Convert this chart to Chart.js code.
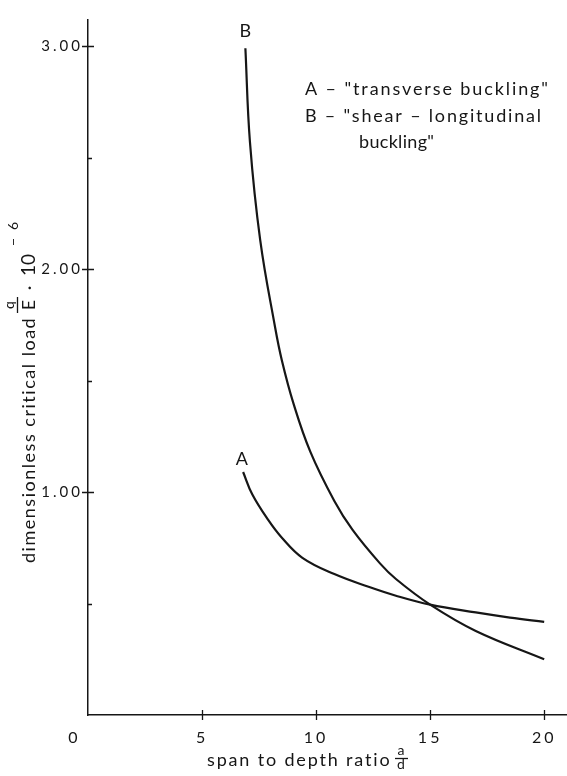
<!DOCTYPE html>
<html>
<head>
<meta charset="utf-8">
<script src="https://cdn.jsdelivr.net/npm/chart.js@4/dist/chart.umd.min.js"></script>
<style>
html, body { margin: 0; padding: 0; background: #fff; }
#wrap { width: 567px; height: 776px; }
</style>
</head>
<body>
<div id="wrap"><canvas id="chart" width="567" height="776"></canvas></div>
<script>
// curve A - "transverse buckling"
var xA = [6.8, 7.2, 7.9, 8.5, 9.4, 10.8, 12.3, 13.5, 15, 17, 18.5, 20];
var yA = [1.09, 0.99, 0.875, 0.795, 0.705, 0.632, 0.575, 0.535, 0.495, 0.46, 0.437, 0.418];
// curve B - "shear-longitudinal buckling"
var xB = [6.9, 7.1, 7.55, 8.2, 8.5, 9.0, 9.75, 10.8, 11.6, 12.8, 13.5, 15, 17, 20];
var yB = [2.99, 2.57, 2.13, 1.74, 1.59, 1.40, 1.18, 0.96, 0.83, 0.68, 0.61, 0.495, 0.377, 0.25];
var xTicks = [5, 10, 15, 20];
var yTicks = [0.5, 1, 1.5, 2, 2.5, 3];

var ink = '#161616';
var fontName = 'Lato';

function pts(xs, ys) {
  var out = [];
  for (var i = 0; i < xs.length; i++) out.push({x: xs[i], y: ys[i]});
  return out;
}

// draw text, optionally stretched with letter spacing to a target width
function txt(ctx, s, x, y, size, width, align) {
  ctx.font = size + 'px ' + fontName;
  ctx.letterSpacing = '0px';
  var sp = 0;
  if (width) {
    var w = ctx.measureText(s).width;
    sp = Math.max(0, (width - w) / (s.length - 1));
  }
  ctx.letterSpacing = sp + 'px';
  ctx.textAlign = align || 'left';
  ctx.fillText(s, x, y);
}

var decor = {
  id: 'decor',
  beforeDraw: function(chart) {
    chart.ctx.letterSpacing = '3px';
  },
  afterDraw: function(chart) {
    var ctx = chart.ctx;
    var xs = chart.scales.x, ys = chart.scales.y;
    var x0 = xs.getPixelForValue(0), y0 = ys.getPixelForValue(0);
    ctx.save();
    ctx.strokeStyle = ink;
    ctx.fillStyle = ink;
    ctx.lineWidth = 1.3;

    // tick marks crossing the axes
    ctx.beginPath();
    yTicks.forEach(function(v) {
      var p = Math.round(ys.getPixelForValue(v)) + 0.5;
      if (Number.isInteger(v)) { ctx.moveTo(x0 - 6, p); ctx.lineTo(x0 + 6, p); }
      else { ctx.moveTo(x0, p); ctx.lineTo(x0 + 4, p); }
    });
    xTicks.forEach(function(v) {
      var p = Math.round(xs.getPixelForValue(v)) + 0.5;
      ctx.moveTo(p, y0 - 5); ctx.lineTo(p, y0 + 5);
    });
    ctx.stroke();

    ctx.textBaseline = 'alphabetic';
    // origin label
    txt(ctx, '0', x0 - 15, y0 + 28, 16, 0, 'center');

    // curve labels
    txt(ctx, 'A', xs.getPixelForValue(6.75), ys.getPixelForValue(1.12), 18, 0, 'center');
    txt(ctx, 'B', xs.getPixelForValue(6.9), ys.getPixelForValue(3.04), 18, 0, 'center');

    // key
    txt(ctx, 'A \u2013 "transverse buckling"', 305, 95, 18, 243);
    txt(ctx, 'B \u2013 "shear \u2013 longitudinal', 305, 122, 18, 236);
    txt(ctx, 'buckling"', 359, 148, 18, 75);

    // x axis title with a/d fraction
    txt(ctx, 'span to depth ratio', 207, 766, 18, 183);
    txt(ctx, 'a', 401, 755, 14, 0, 'center');
    txt(ctx, 'd', 401, 769, 14, 0, 'center');
    ctx.beginPath();
    ctx.moveTo(395, 758.5); ctx.lineTo(408, 758.5);
    ctx.stroke();

    // y axis title, rotated, with q/E fraction and 10^-6
    ctx.translate(35, 563);
    ctx.rotate(-Math.PI / 2);
    txt(ctx, 'dimensionless critical load', 0, 0, 18, 245);
    txt(ctx, 'q', 258, -21, 14, 0, 'center');
    ctx.beginPath();
    ctx.moveTo(250, -17.5); ctx.lineTo(266, -17.5);
    ctx.stroke();
    txt(ctx, 'E', 258, 0, 18, 0, 'center');
    txt(ctx, '\u00b7', 275, 0, 18, 0, 'center');
    txt(ctx, '10', 287, 0, 19, 0);
    txt(ctx, '\u2212', 317, -17, 14, 0);
    txt(ctx, '6', 333, -17, 14, 0);
    ctx.restore();
  }
};

var lineStyle = {
  showLine: true,
  borderColor: ink,
  borderWidth: 2.2,
  pointRadius: 0,
  fill: false,
  tension: 0.4
};

new Chart(document.getElementById('chart'), {
  type: 'scatter',
  data: {
    datasets: [
      Object.assign({label: 'A', data: pts(xA, yA)}, lineStyle),
      Object.assign({label: 'B', data: pts(xB, yB)}, lineStyle)
    ]
  },
  options: {
    responsive: false,
    animation: false,
    devicePixelRatio: 1,
    layout: {padding: {top: 20, left: 0, right: 0, bottom: 0}},
    plugins: {legend: {display: false}, tooltip: {enabled: false}},
    scales: {
      x: {
        type: 'linear', min: 0, max: 21,
        grid: {display: false, drawTicks: false, tickLength: 0},
        border: {display: true, color: ink, width: 1.5},
        ticks: {color: ink, font: {family: fontName, size: 16}, padding: 13, maxRotation: 0},
        afterBuildTicks: function(s) { s.ticks = xTicks.map(function(v) { return {value: v}; }); },
        afterFit: function(s) { s.height = 61; }
      },
      y: {
        type: 'linear', min: 0, max: 3.117,
        grid: {display: false, drawTicks: false, tickLength: 0},
        border: {display: true, color: ink, width: 1.5},
        ticks: {
          color: ink, font: {family: fontName, size: 15}, padding: 5,
          callback: function(v) { return Number.isInteger(v) ? v.toFixed(2) : ''; }
        },
        afterBuildTicks: function(s) { s.ticks = yTicks.map(function(v) { return {value: v}; }); },
        afterFit: function(s) { s.width = 88; }
      }
    }
  },
  plugins: [decor]
});
</script>
</body>
</html>
